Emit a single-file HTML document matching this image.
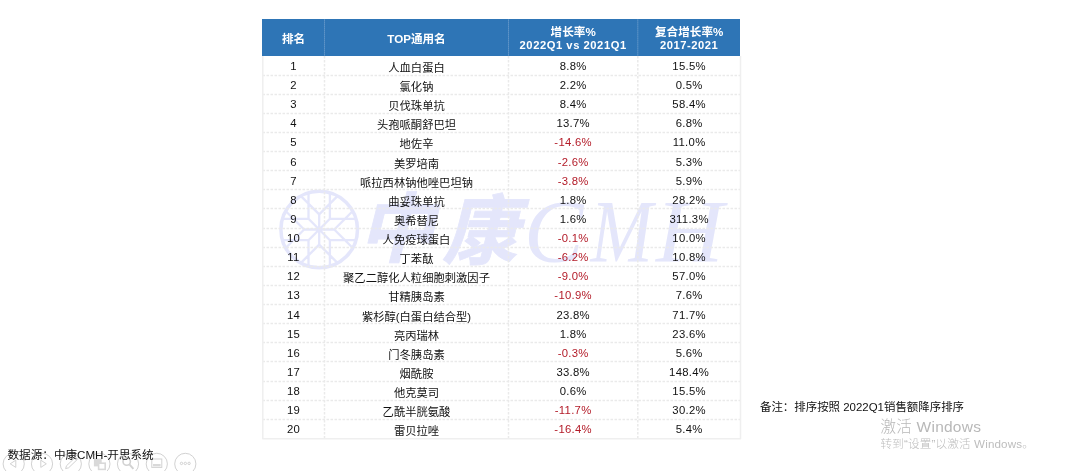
<!DOCTYPE html>
<html lang="zh-CN"><head><meta charset="utf-8"><title>TOP通用名</title>
<style>
html,body{margin:0;padding:0;background:#fff;}
body{width:1080px;height:471px;position:relative;overflow:hidden;font-family:"Liberation Sans","Noto Sans CJK SC",sans-serif;color:#111;}
svg{position:absolute;left:0;top:0;width:1080px;height:471px;}
.hd{position:absolute;left:262.3px;top:19.4px;width:478.0px;height:36.4px;background:#2e75b6;}
.h{position:absolute;color:#fff;font-weight:bold;font-size:11.6px;line-height:15px;text-align:center;white-space:nowrap;}
.h i{font-style:normal;font-size:11.2px;letter-spacing:.55px;display:block;line-height:15px;margin-top:-1px;}
.r{position:absolute;left:0;height:19px;width:1080px;font-size:11.3px;line-height:19px;}
.c{position:absolute;top:1px;text-align:center;white-space:nowrap;letter-spacing:.3px;}
.c2{top:3px;letter-spacing:0;}
.c1,.h1{left:262.5px;width:62.0px}
.c2,.h2{left:324.5px;width:184.0px}
.c3,.h3{left:508.5px;width:129.29999999999995px}
.c4,.h4{left:637.8px;width:102.70000000000005px}
.neg{color:#b31b28}
.src{position:absolute;left:7.5px;top:446.5px;font-size:11.6px;line-height:16px;color:#111;white-space:nowrap;}
.note{position:absolute;left:760px;top:399px;font-size:11.45px;line-height:16px;color:#111;white-space:nowrap;}
.act1{position:absolute;left:880.5px;top:417px;font-size:15.5px;line-height:20px;color:#b8b8b8;white-space:nowrap;letter-spacing:.25px;font-weight:300;}
.act2{position:absolute;left:880.5px;top:436px;font-size:11.6px;line-height:16px;color:#bdbdbd;white-space:nowrap;letter-spacing:.15px;font-weight:300;}
</style></head><body>
<svg id="wm" viewBox="0 0 1080 471">
<g fill="none" stroke="#e4e6fb" stroke-linecap="butt">
<circle cx="319.2" cy="229.5" r="38.3" stroke-width="3.5"/><path d="M319.2 229.5L334.3 229.5M334.3 229.5L352.8 211.0M334.3 229.5L352.8 248.0M319.2 229.5L329.9 240.2M329.9 240.2L356.0 240.2M329.9 240.2L329.9 266.3M319.2 229.5L319.2 244.6M319.2 244.6L337.7 263.1M319.2 244.6L300.7 263.1M319.2 229.5L308.5 240.2M308.5 240.2L308.5 266.3M308.5 240.2L282.4 240.2M319.2 229.5L304.1 229.5M304.1 229.5L285.6 248.0M304.1 229.5L285.6 211.0M319.2 229.5L308.5 218.8M308.5 218.8L282.4 218.8M308.5 218.8L308.5 192.7M319.2 229.5L319.2 214.4M319.2 214.4L300.7 195.9M319.2 214.4L337.7 195.9M319.2 229.5L329.9 218.8M329.9 218.8L329.9 192.7M329.9 218.8L356.0 218.8" stroke-width="2.3"/>
</g>
<g font-family="'Liberation Sans','Noto Sans CJK SC',sans-serif" font-weight="bold" font-size="76" fill="#e4e6fb" stroke="#e4e6fb" stroke-width="0.8">
<text transform="translate(358,256) skewX(-14)">中</text>
<text transform="translate(442,258) skewX(-14)">康</text>
</g>
<g font-family="'Liberation Serif',serif" font-style="italic" font-size="89" fill="#e4e6fb">
<text transform="translate(524,261)">C</text>
<text transform="translate(590.5,261) scale(0.84,1)">M</text>
<text transform="translate(656,261) scale(1.05,1)">H</text>
</g>
</svg>
<div class="hd"></div>
<svg id="grid" viewBox="0 0 1080 471">
<g stroke="#eaeaea" stroke-width="1.5" stroke-dasharray="2.5 1.5" fill="none">
<line x1="262.5" x2="740.5" y1="75.50" y2="75.50"/><line x1="262.5" x2="740.5" y1="94.50" y2="94.50"/><line x1="262.5" x2="740.5" y1="113.50" y2="113.50"/><line x1="262.5" x2="740.5" y1="132.50" y2="132.50"/><line x1="262.5" x2="740.5" y1="151.50" y2="151.50"/><line x1="262.5" x2="740.5" y1="170.50" y2="170.50"/><line x1="262.5" x2="740.5" y1="189.50" y2="189.50"/><line x1="262.5" x2="740.5" y1="208.50" y2="208.50"/><line x1="262.5" x2="740.5" y1="228.50" y2="228.50"/><line x1="262.5" x2="740.5" y1="247.50" y2="247.50"/><line x1="262.5" x2="740.5" y1="266.50" y2="266.50"/><line x1="262.5" x2="740.5" y1="285.50" y2="285.50"/><line x1="262.5" x2="740.5" y1="304.50" y2="304.50"/><line x1="262.5" x2="740.5" y1="323.50" y2="323.50"/><line x1="262.5" x2="740.5" y1="342.50" y2="342.50"/><line x1="262.5" x2="740.5" y1="361.50" y2="361.50"/><line x1="262.5" x2="740.5" y1="381.50" y2="381.50"/><line x1="262.5" x2="740.5" y1="400.50" y2="400.50"/><line x1="262.5" x2="740.5" y1="419.50" y2="419.50"/><line x1="324.5" x2="324.5" y1="56.0" y2="438.40"/><line x1="508.5" x2="508.5" y1="56.0" y2="438.40"/><line x1="637.8" x2="637.8" y1="56.0" y2="438.40"/>
</g>
<g stroke="#7fa9d3" stroke-width="1" stroke-dasharray="1 1" fill="none">
<line x1="324.5" x2="324.5" y1="19.6" y2="56.0"/><line x1="508.5" x2="508.5" y1="19.6" y2="56.0"/><line x1="637.8" x2="637.8" y1="19.6" y2="56.0"/>
</g>
<path d="M262.8 56.0 V438.70 H740.5 V56.0" fill="none" stroke="#efefef" stroke-width="1.5" stroke-linejoin="round"/>
</svg>
<div class="h h1" style="top:30.8px">排名</div>
<div class="h h2" style="top:30.8px">TOP通用名</div>
<div class="h h3" style="top:24.2px">增长率%<i>2022Q1 vs 2021Q1</i></div>
<div class="h h4" style="top:24.2px">复合增长率%<i>2017-2021</i></div>
<div class="r" style="top:56.00px"><span class="c c1">1</span><span class="c c2">人血白蛋白</span><span class="c c3">8.8%</span><span class="c c4">15.5%</span></div>
<div class="r" style="top:75.00px"><span class="c c1">2</span><span class="c c2">氯化钠</span><span class="c c3">2.2%</span><span class="c c4">0.5%</span></div>
<div class="r" style="top:94.00px"><span class="c c1">3</span><span class="c c2">贝伐珠单抗</span><span class="c c3">8.4%</span><span class="c c4">58.4%</span></div>
<div class="r" style="top:113.00px"><span class="c c1">4</span><span class="c c2">头孢哌酮舒巴坦</span><span class="c c3">13.7%</span><span class="c c4">6.8%</span></div>
<div class="r" style="top:132.00px"><span class="c c1">5</span><span class="c c2">地佐辛</span><span class="c c3 neg">-14.6%</span><span class="c c4">11.0%</span></div>
<div class="r" style="top:152.00px"><span class="c c1">6</span><span class="c c2">美罗培南</span><span class="c c3 neg">-2.6%</span><span class="c c4">5.3%</span></div>
<div class="r" style="top:171.00px"><span class="c c1">7</span><span class="c c2">哌拉西林钠他唑巴坦钠</span><span class="c c3 neg">-3.8%</span><span class="c c4">5.9%</span></div>
<div class="r" style="top:190.00px"><span class="c c1">8</span><span class="c c2">曲妥珠单抗</span><span class="c c3">1.8%</span><span class="c c4">28.2%</span></div>
<div class="r" style="top:209.00px"><span class="c c1">9</span><span class="c c2">奥希替尼</span><span class="c c3">1.6%</span><span class="c c4">311.3%</span></div>
<div class="r" style="top:228.00px"><span class="c c1">10</span><span class="c c2">人免疫球蛋白</span><span class="c c3 neg">-0.1%</span><span class="c c4">10.0%</span></div>
<div class="r" style="top:247.00px"><span class="c c1">11</span><span class="c c2">丁苯酞</span><span class="c c3 neg">-6.2%</span><span class="c c4">10.8%</span></div>
<div class="r" style="top:266.00px"><span class="c c1">12</span><span class="c c2">聚乙二醇化人粒细胞刺激因子</span><span class="c c3 neg">-9.0%</span><span class="c c4">57.0%</span></div>
<div class="r" style="top:285.00px"><span class="c c1">13</span><span class="c c2">甘精胰岛素</span><span class="c c3 neg">-10.9%</span><span class="c c4">7.6%</span></div>
<div class="r" style="top:305.00px"><span class="c c1">14</span><span class="c c2">紫杉醇(白蛋白结合型)</span><span class="c c3">23.8%</span><span class="c c4">71.7%</span></div>
<div class="r" style="top:324.00px"><span class="c c1">15</span><span class="c c2">亮丙瑞林</span><span class="c c3">1.8%</span><span class="c c4">23.6%</span></div>
<div class="r" style="top:343.00px"><span class="c c1">16</span><span class="c c2">门冬胰岛素</span><span class="c c3 neg">-0.3%</span><span class="c c4">5.6%</span></div>
<div class="r" style="top:362.00px"><span class="c c1">17</span><span class="c c2">烟酰胺</span><span class="c c3">33.8%</span><span class="c c4">148.4%</span></div>
<div class="r" style="top:381.00px"><span class="c c1">18</span><span class="c c2">他克莫司</span><span class="c c3">0.6%</span><span class="c c4">15.5%</span></div>
<div class="r" style="top:400.00px"><span class="c c1">19</span><span class="c c2">乙酰半胱氨酸</span><span class="c c3 neg">-11.7%</span><span class="c c4">30.2%</span></div>
<div class="r" style="top:419.00px"><span class="c c1">20</span><span class="c c2">雷贝拉唑</span><span class="c c3 neg">-16.4%</span><span class="c c4">5.4%</span></div>
<svg id="tb" viewBox="0 0 1080 471">
<g fill="none" stroke="#d2d2d2" stroke-width="1">
<circle cx="13.7" cy="463.9" r="10.6"/><circle cx="42" cy="463.9" r="10.6"/><circle cx="70.8" cy="463.9" r="10.6"/><circle cx="99.4" cy="463.9" r="10.6"/><circle cx="128" cy="463.9" r="10.6"/><circle cx="156.8" cy="463.9" r="10.6"/><circle cx="185.3" cy="463.9" r="10.6"/>
<path d="M10.2 463.8L15.8 460.2V467.4Z"/>
<path d="M46.3 463.8L40.8 460.2V467.4Z"/>
<path d="M65.6 468.6L66.6 465.6L75.6 457.2L77.6 459.2L68.6 467.8Z"/>
<circle cx="126.7" cy="461.6" r="3.7" stroke-width="1.6"/><path d="M129.4 464.4L133.4 468.8" stroke-width="2"/>
<rect x="151.8" y="459" width="10" height="8.4"/>
<circle cx="181.5" cy="463.4" r="1.2"/><circle cx="185.3" cy="463.4" r="1.2"/><circle cx="189.1" cy="463.4" r="1.2"/>
</g>
<g fill="#d9d9d9" stroke="none">
<rect x="93.9" y="458.6" width="7.8" height="7.8"/><rect x="97.8" y="462.4" width="8.2" height="7.8"/>
<rect x="153" y="464" width="7.6" height="2.4"/>
</g>
<rect x="99.4" y="464" width="5" height="4.6" fill="#fff"/>
</svg>
<div class="src">数据源：中康CMH-开思系统</div>
<div class="note">备注：排序按照 2022Q1销售额降序排序</div>
<div class="act1">激活 Windows</div>
<div class="act2">转到“设置”以激活 Windows。</div>
</body></html>
